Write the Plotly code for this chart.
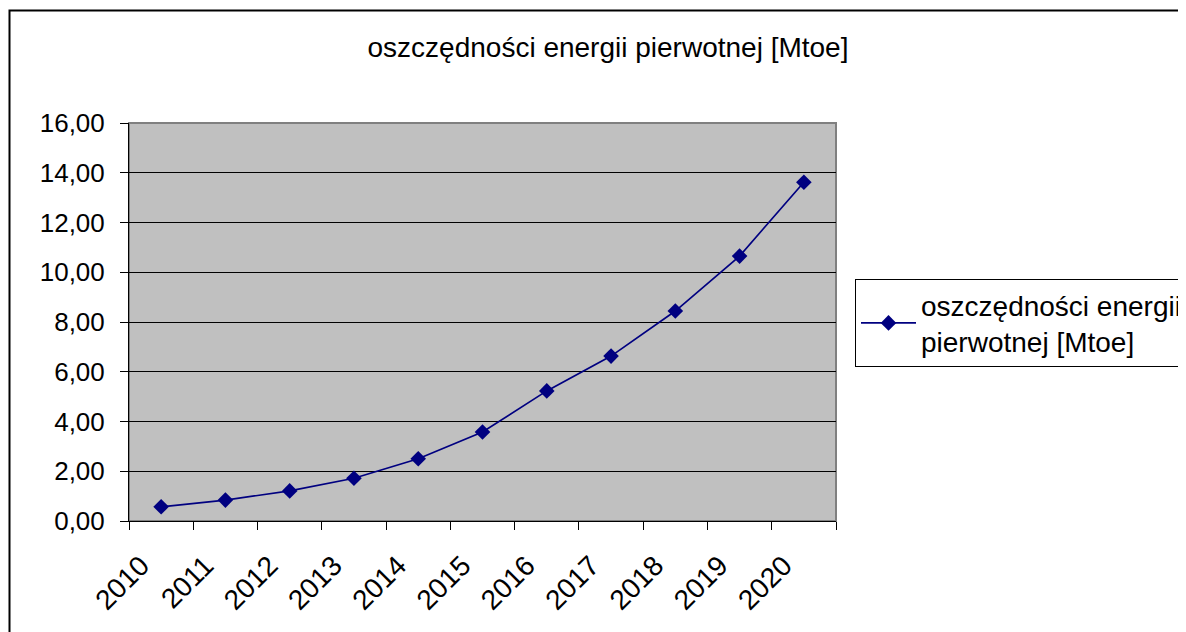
import plotly.graph_objects as go

years = ["2010", "2011", "2012", "2013", "2014", "2015", "2016", "2017", "2018", "2019", "2020"]
savings = [0.57, 0.84, 1.21, 1.72, 2.50, 3.58, 5.23, 6.63, 8.44, 10.65, 13.62]
series_name = "oszczędności energii<br>pierwotnej [Mtoe]"
title_text = "oszczędności energii pierwotnej [Mtoe]"
y_ticks = [0, 2, 4, 6, 8, 10, 12, 14, 16]

OFF = 8  # default page body margin
W, H = 1186 - OFF, 632 - OFF
L, R, T, B = 129 - OFF, 836 - OFF, 123 - OFF, 521 - OFF
FONT = "Liberation Sans, Arial, sans-serif"

pw, ph = R - L, B - T
def px2paper_x(px):
    return (px - OFF - L) / pw
def px2paper_y(py):
    return (B - (py - OFF)) / ph

fig = go.Figure()
fig.add_trace(go.Scatter(
    x=years, y=savings, mode="lines+markers", name=series_name,
    line=dict(color="#000080", width=1.7),
    marker=dict(symbol="diamond", size=12, color="#000080"),
))

fig.update_layout(
    width=W, height=H,
    margin=dict(l=L, r=W - R, t=T, b=H - B, autoexpand=False),
    paper_bgcolor="white", plot_bgcolor="#C0C0C0",
    separators=", ",
    font=dict(family=FONT, size=26, color="black"),
    title=dict(text=title_text, x=(608 - OFF) / W, xanchor="center",
               y=1 - (47 - OFF) / H, yanchor="middle",
               font=dict(family=FONT, size=28, color="black")),
    showlegend=True,
    legend=dict(x=px2paper_x(855), y=px2paper_y(279), xanchor="left", yanchor="top",
                bordercolor="black", borderwidth=1, bgcolor="white", itemwidth=55,
                font=dict(family=FONT, size=28, color="black")),
    xaxis=dict(type="category", tickson="boundaries", ticks="outside", ticklen=8,
               tickcolor="black", showgrid=False, showline=True, linecolor="black",
               linewidth=1, tickangle=-45, tickfont=dict(size=28), range=[-0.5, 10.5],
               ticklabelshift=-20, ticklabelstandoff=16),
    yaxis=dict(range=[0, 16], tickvals=y_ticks, tickformat=".2f", ticks="outside",
               ticklen=8, tickcolor="black", showgrid=True, gridcolor="black", gridwidth=1,
               showline=True, linecolor="black", linewidth=1, zeroline=False,
               tickfont=dict(size=26), ticklabelstandoff=10),
)

# plot area gray border (top/right)
fig.add_shape(type="rect", xref="paper", yref="paper", x0=0, x1=1, y0=0, y1=1,
              line=dict(color="#808080", width=2), layer="below")
# outer chart frame
fig.add_shape(type="rect", xref="paper", yref="paper",
              x0=px2paper_x(9.5), x1=px2paper_x(1200), y0=px2paper_y(660), y1=px2paper_y(10.5),
              line=dict(color="black", width=2), fillcolor="rgba(0,0,0,0)", layer="above")

fig.write_html("out.html")
